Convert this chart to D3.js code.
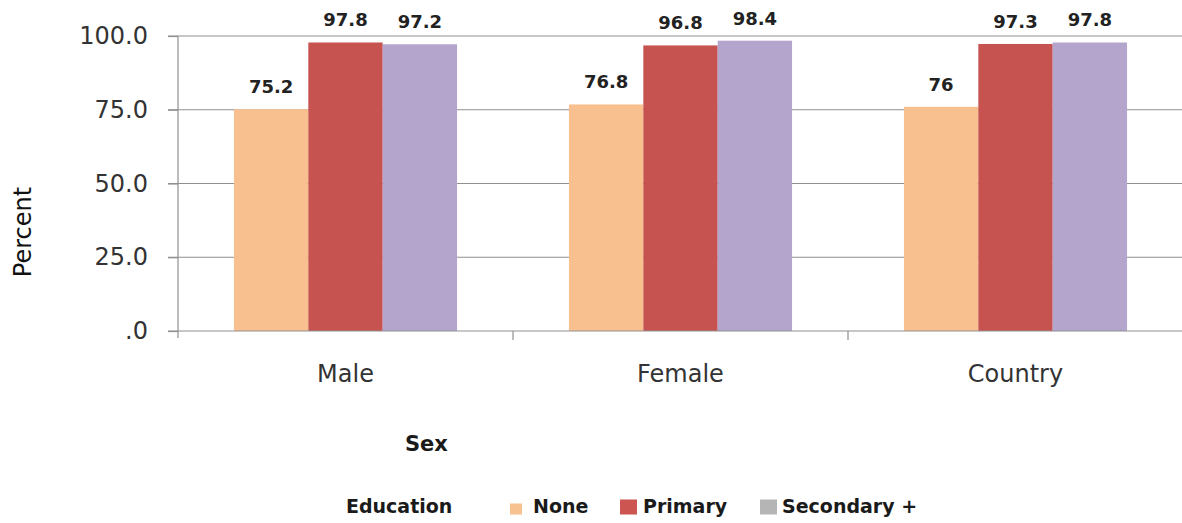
<!DOCTYPE html>
<html>
<head>
<meta charset="utf-8">
<script src="https://cdn.jsdelivr.net/npm/d3@7"></script>
<style>
  html, body { margin: 0; padding: 0; background: #fff; }
  svg { display: block; }
</style>
</head>
<body>
<svg id="chart" width="1182" height="523"></svg>
<script>
// Percent by sex and education level
const categories = ["Male", "Female", "Country"];
const seriesNames = ["None", "Primary", "Secondary +"];
const noneValues = [75.2, 76.8, 76];
const primaryValues = [97.8, 96.8, 97.3];
const secondaryValues = [97.2, 98.4, 97.8];
const yTicks = [0, 25, 50, 75, 100];

const barColors = { "None": "#f9c08f", "Primary": "#c65350", "Secondary +": "#b4a5cc" };
const legendColors = { "None": "#f7c28f", "Primary": "#cc5552", "Secondary +": "#b5b5b5" };

const rows = categories.map((c, i) => ({
  category: c,
  values: [
    { key: "None", value: noneValues[i] },
    { key: "Primary", value: primaryValues[i] },
    { key: "Secondary +", value: secondaryValues[i] }
  ]
}));

const svg = d3.select("#chart");
const plotLeft = 178, plotRight = 1183, plotTop = 36, plotBottom = 331;

const x = d3.scaleBand().domain(categories).range([plotLeft, plotRight]).padding(0);
const bw = x.bandwidth();
const xSub = d3.scaleBand().domain(seriesNames).range([bw * 0.167, bw * 0.833]).padding(0);
const y = d3.scaleLinear().domain([0, 100]).range([plotBottom, plotTop]);

// horizontal gridlines with tick stubs
svg.append("g")
  .selectAll("line")
  .data(yTicks.filter(d => d > 0))
  .join("line")
  .attr("x1", plotLeft - 10).attr("x2", plotRight)
  .attr("y1", d => y(d)).attr("y2", d => y(d))
  .attr("stroke", "#8f8f8f").attr("stroke-width", 1.2);

// bars
const groups = svg.append("g")
  .selectAll("g")
  .data(rows)
  .join("g")
  .attr("transform", d => `translate(${x(d.category)},0)`);

groups.selectAll("rect")
  .data(d => d.values)
  .join("rect")
  .attr("x", d => xSub(d.key))
  .attr("width", xSub.bandwidth())
  .attr("y", d => y(d.value))
  .attr("height", d => y(0) - y(d.value))
  .attr("fill", d => barColors[d.key]);

// value labels
groups.selectAll("text")
  .data(d => d.values)
  .join("text")
  .attr("x", d => xSub(d.key) + xSub.bandwidth() / 2)
  .attr("y", d => y(d.value) - 16)
  .attr("text-anchor", "middle")
  .attr("font-family", "DejaVu Sans, sans-serif")
  .attr("font-weight", "bold")
  .attr("font-size", 18)
  .attr("fill", "#222")
  .text(d => String(d.value));

// y axis
const yAxis = svg.append("g")
  .attr("transform", `translate(${plotLeft},0)`)
  .call(d3.axisLeft(y).tickValues(yTicks).tickSize(10).tickPadding(20)
    .tickFormat(d => d === 0 ? ".0" : d.toFixed(1)));
yAxis.select(".domain").remove();
yAxis.selectAll(".tick line").attr("stroke", "#8f8f8f").attr("stroke-width", 1.2);
yAxis.selectAll("text")
  .attr("font-family", "DejaVu Sans, sans-serif")
  .attr("font-size", 24)
  .attr("fill", "#333");

svg.append("line")
  .attr("x1", plotLeft).attr("x2", plotLeft)
  .attr("y1", plotTop).attr("y2", plotBottom + 7)
  .attr("stroke", "#8f8f8f").attr("stroke-width", 1.2);

// x axis
svg.append("line")
  .attr("x1", plotLeft - 10).attr("x2", plotRight)
  .attr("y1", plotBottom).attr("y2", plotBottom)
  .attr("stroke", "#8f8f8f").attr("stroke-width", 1.2);

const boundaries = categories.map(c => x(c)).concat([plotRight]);
svg.append("g")
  .selectAll("line")
  .data(boundaries.slice(1))
  .join("line")
  .attr("x1", d => d).attr("x2", d => d)
  .attr("y1", plotBottom).attr("y2", plotBottom + 9)
  .attr("stroke", "#8f8f8f").attr("stroke-width", 1.2);

svg.append("g")
  .selectAll("text")
  .data(categories)
  .join("text")
  .attr("x", d => x(d) + bw / 2)
  .attr("y", 382)
  .attr("text-anchor", "middle")
  .attr("font-family", "DejaVu Sans, sans-serif")
  .attr("font-size", 24)
  .attr("fill", "#333")
  .text(d => d);

// axis titles
svg.append("text")
  .attr("transform", "translate(31,232) rotate(-90)")
  .attr("text-anchor", "middle")
  .attr("font-family", "DejaVu Sans, sans-serif")
  .attr("font-size", 24)
  .attr("fill", "#111")
  .text("Percent");

svg.append("text")
  .attr("x", 405).attr("y", 451)
  .attr("font-family", "DejaVu Sans, sans-serif")
  .attr("font-weight", "bold")
  .attr("font-size", 21)
  .attr("fill", "#1a1a1a")
  .text("Sex");

// legend
const legendY = 513;
svg.append("text")
  .attr("x", 346).attr("y", legendY)
  .attr("font-family", "DejaVu Sans, sans-serif")
  .attr("font-weight", "bold")
  .attr("font-size", 19)
  .attr("fill", "#1a1a1a")
  .text("Education");

const legendItems = [
  { key: "None", sx: 510, sw: 12, sh: 11, tx: 533 },
  { key: "Primary", sx: 620, sw: 17, sh: 15, tx: 643 },
  { key: "Secondary +", sx: 760, sw: 17, sh: 15, tx: 782 }
];
const lg = svg.append("g").selectAll("g").data(legendItems).join("g");
lg.append("rect")
  .attr("x", d => d.sx)
  .attr("y", d => 507 - d.sh / 2 + (d.key === "None" ? 2 : 0))
  .attr("width", d => d.sw).attr("height", d => d.sh)
  .attr("fill", d => legendColors[d.key]);
lg.append("text")
  .attr("x", d => d.tx).attr("y", legendY)
  .attr("font-family", "DejaVu Sans, sans-serif")
  .attr("font-weight", "bold")
  .attr("font-size", 19)
  .attr("fill", "#1a1a1a")
  .text(d => d.key);
</script>
</body>
</html>
